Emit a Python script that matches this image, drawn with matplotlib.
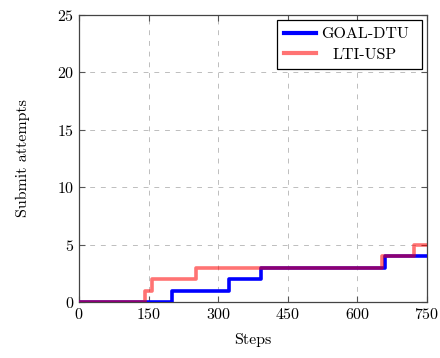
import matplotlib
matplotlib.use("Agg")
import matplotlib.pyplot as plt
from matplotlib.transforms import ScaledTranslation

plt.rcParams['font.family'] = 'serif'
plt.rcParams['font.serif'] = ['cmr10']
plt.rcParams['mathtext.fontset'] = 'cm'
plt.rcParams['axes.formatter.use_mathtext'] = True

goal_x = [0, 201, 323, 392, 660, 750]
goal_y = [0, 1, 2, 3, 4, 4]
lti_x = [0, 142, 157, 253, 654, 721, 750]
lti_y = [0, 1, 2, 3, 4, 5, 5]
xticks = [0, 150, 300, 450, 600, 750]
yticks = [0, 5, 10, 15, 20, 25]

FS = 11.5
fig = plt.figure(figsize=(4.4, 3.58), dpi=100)
ax = fig.add_axes([79/440, 56/358, 348/440, 287/358])
ax.step(goal_x, goal_y, where='post', color='blue', lw=2.6, label='GOAL-DTU', zorder=3)
ax.step(lti_x, lti_y, where='post', color=(1, 0, 0), alpha=0.55, lw=2.6, label='LTI-USP', zorder=4)
ax.set_xlim(0, 750)
ax.set_ylim(0, 25)
ax.set_xticks(xticks)
ax.set_yticks(yticks)
ax.grid(True, color='#bdbdbd', linestyle=(0, (5, 6)), lw=0.7)
ax.tick_params(direction='in', top=True, right=True, labelsize=FS, length=4, colors='#555555', labelcolor='black')
for s in ax.spines.values():
    s.set_color('#444444')
    s.set_linewidth(0.9)
ax.set_xlabel('Steps', fontsize=FS, labelpad=8)
ax.set_ylabel('Submit attempts', fontsize=FS, labelpad=19)
leg = ax.legend(loc='upper right', fontsize=FS, fancybox=False, edgecolor='black',
                framealpha=1, borderaxespad=0, handlelength=2.0, handletextpad=0.3,
                borderpad=0.45, labelspacing=0.375, mode='expand',
                bbox_to_anchor=(277/440, 0, 145/440, 338/358),
                bbox_transform=fig.transFigure)
leg.get_frame().set_linewidth(0.9)
for h in leg.get_lines():
    h.set_linewidth(3)
texts = leg.get_texts()
t1 = texts[1]
t1.set_transform(t1.get_transform() + ScaledTranslation(11.5/100, 0, fig.dpi_scale_trans))
fig.savefig('out.png', dpi=100)
